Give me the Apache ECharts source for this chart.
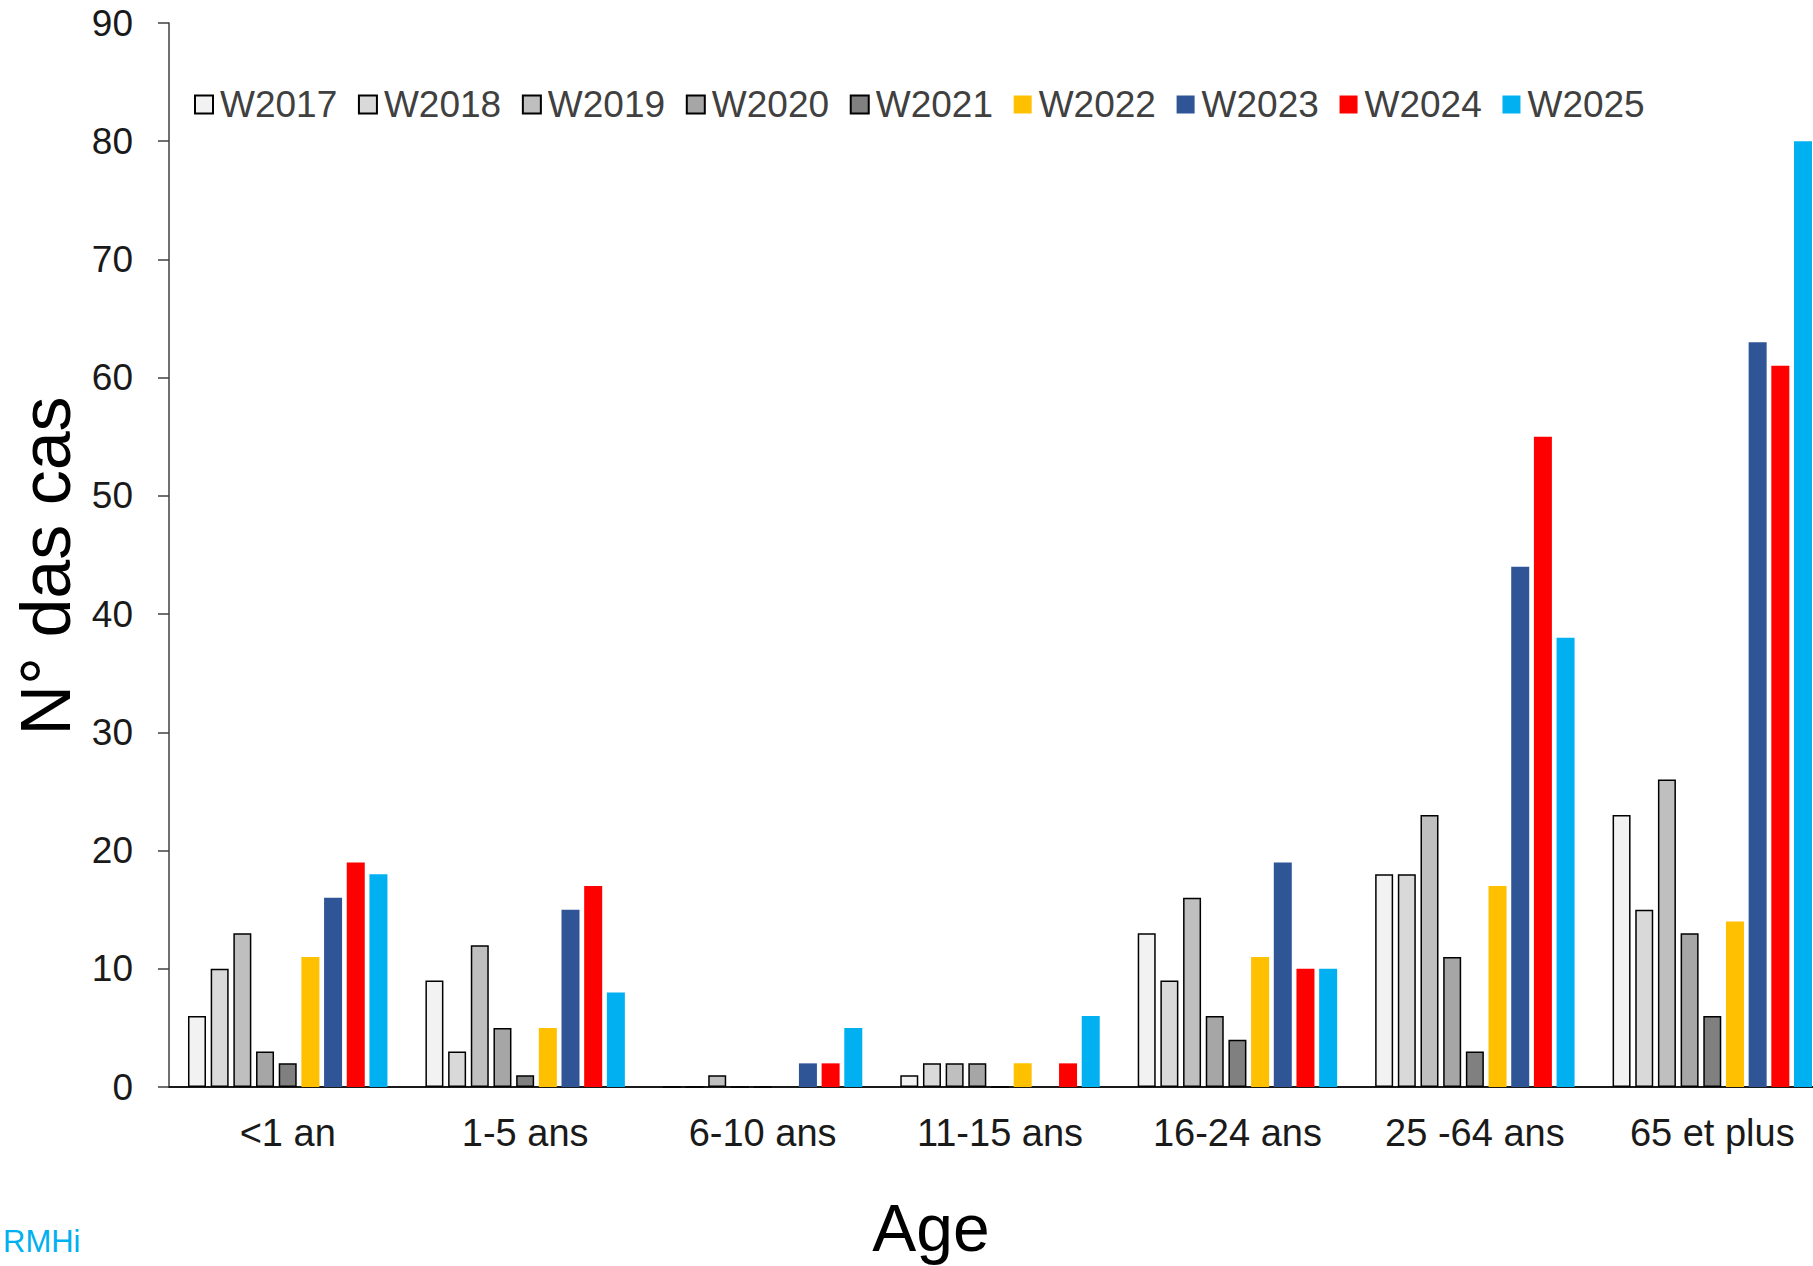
<!DOCTYPE html>
<html>
<head>
<meta charset="utf-8">
<script src="https://cdn.jsdelivr.net/npm/echarts@6/dist/echarts.min.js"></script>
<style>
html,body{margin:0;padding:0;background:#fff;}
#chart{width:1813px;height:1266px;}
</style>
</head>
<body>
<div id="chart"></div>
<script>
const categories = ['<1 an', '1-5 ans', '6-10 ans', '11-15 ans', '16-24 ans', '25 -64 ans', '65 et plus'];
const seriesNames = ['W2017', 'W2018', 'W2019', 'W2020', 'W2021', 'W2022', 'W2023', 'W2024', 'W2025'];
const w2017 = [6, 9, 0, 1, 13, 18, 23];
const w2018 = [10, 3, 0, 2, 9, 18, 15];
const w2019 = [13, 12, 1, 2, 16, 23, 26];
const w2020 = [3, 5, 0, 2, 6, 11, 13];
const w2021 = [2, 1, 0, 0, 4, 3, 6];
const w2022 = [11, 5, 0, 2, 11, 17, 14];
const w2023 = [16, 15, 2, 0, 19, 44, 63];
const w2024 = [19, 17, 2, 2, 10, 55, 61];
const w2025 = [18, 8, 5, 6, 10, 38, 80];
const yTicks = [0, 10, 20, 30, 40, 50, 60, 70, 80, 90];

const seriesValues = [w2017, w2018, w2019, w2020, w2021, w2022, w2023, w2024, w2025];
const colors = ['#F2F2F2', '#D9D9D9', '#BFBFBF', '#A6A6A6', '#808080', '#FFC000', '#2F5597', '#FF0000', '#00B0F0'];
const bordered = [true, true, true, true, true, false, false, false, false];

const FONT = '"Liberation Sans", Arial, sans-serif';

const chart = echarts.init(document.getElementById('chart'), null, {renderer: 'svg'});

const series = seriesNames.map((name, i) => ({
  name: name,
  type: 'bar',
  data: seriesValues[i],
  barWidth: 18,
  barGap: '26%',
  itemStyle: {
    color: colors[i],
    borderColor: bordered[i] ? '#000000' : colors[i],
    borderWidth: bordered[i] ? 1.5 : 0
  },
  emphasis: {disabled: true}
}));

chart.setOption({
  animation: false,
  backgroundColor: '#ffffff',
  color: colors,
  grid: {left: 169, right: -18, top: 23, bottom: 179, containLabel: false, outerBoundsMode: 'none'},
  legend: {
    data: seriesNames,
    left: 189,
    top: 81,
    itemWidth: 18,
    itemHeight: 18,
    itemGap: 20.7,
    icon: 'rect',
    textStyle: {fontFamily: FONT, fontSize: 37, color: '#404040', padding: [0, 0, 0, 2]}
  },
  xAxis: {
    type: 'category',
    data: categories,
    axisLine: {show: true, lineStyle: {color: '#1a1a1a', width: 2}},
    axisTick: {show: false},
    axisLabel: {fontFamily: FONT, fontSize: 38, color: '#1a1a1a', margin: 27, interval: 0}
  },
  yAxis: {
    type: 'value',
    min: yTicks[0],
    max: yTicks[yTicks.length - 1],
    interval: 10,
    splitLine: {show: false},
    axisLine: {show: true, lineStyle: {color: '#404040', width: 1.5}},
    axisTick: {show: true, length: 11, lineStyle: {color: '#404040', width: 1.5}},
    axisLabel: {fontFamily: FONT, fontSize: 37, color: '#1a1a1a', margin: 36}
  },
  graphic: [
    {
      type: 'text',
      x: 46, y: 566,
      rotation: Math.PI / 2,
      style: {text: 'N° das cas', font: '70px ' + FONT, fill: '#000', textAlign: 'center', textVerticalAlign: 'middle'}
    },
    {
      type: 'text',
      x: 931, y: 1228,
      style: {text: 'Age', font: '66px ' + FONT, fill: '#000', textAlign: 'center', textVerticalAlign: 'middle'}
    },
    {
      type: 'text',
      x: 3, y: 1241,
      style: {text: 'RMHi', font: '31px ' + FONT, fill: '#00B0F0', textAlign: 'left', textVerticalAlign: 'middle'}
    }
  ],
  series: series
});
</script>
</body>
</html>
